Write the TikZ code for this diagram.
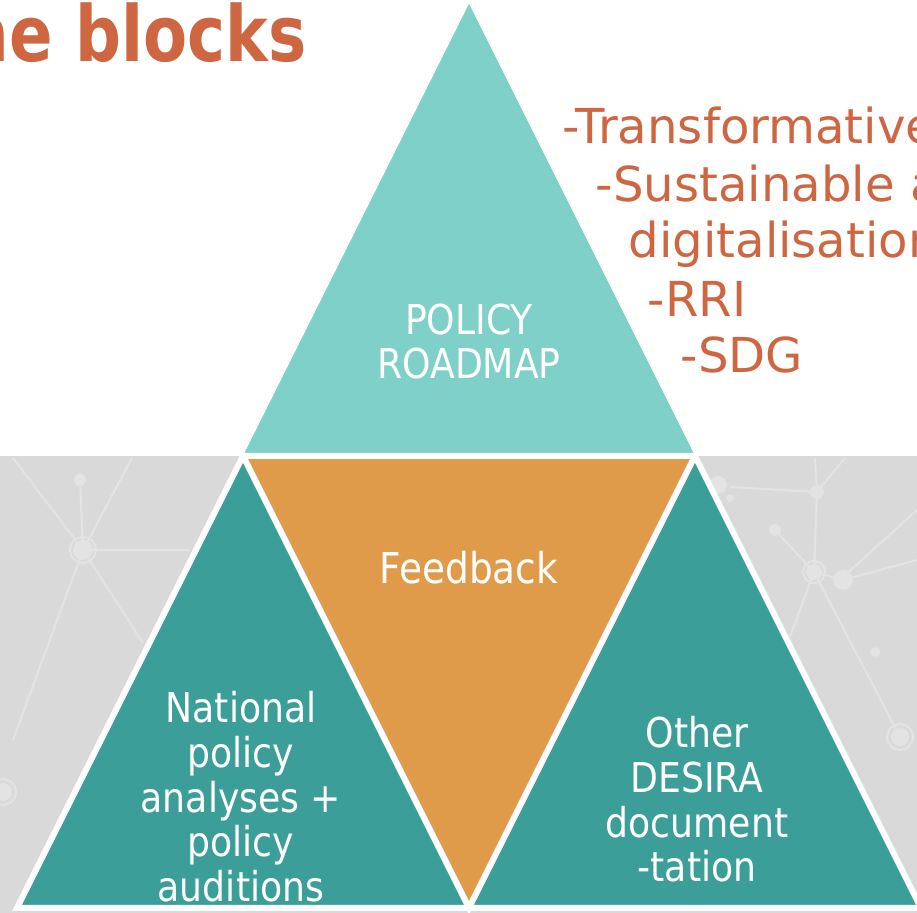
\documentclass[tikz,border=0pt]{standalone}
\usepackage{fontspec}
\usepackage{graphicx}
\setmainfont{DejaVu Sans}
\newfontfamily\blockfont[FakeStretch=0.88]{DejaVu Sans}
\newfontfamily\titlefont{DejaVu Sans}
\usepackage{tikz}

\definecolor{roadmap}{HTML}{7FD0C9}
\definecolor{feedback}{HTML}{E09B4A}
\definecolor{sources}{HTML}{3C9E99}
\definecolor{rust}{HTML}{CD6641}
\definecolor{slide}{HTML}{D9D9D9}
\definecolor{web}{HTML}{E3E3E3}

\begin{document}
\begin{tikzpicture}[x=0.01cm,y=-0.01cm,
  block/.style={draw=white,line width=1.7pt,line join=miter},
  blocktext/.style={text=white,align=center,inner sep=0,anchor=north,
    font=\blockfont\fontsize{11.7}{12.7}\selectfont},
  listitem/.style={text=rust,inner sep=0,anchor=base west,
    font=\fontsize{13.7}{16}\selectfont},
  link/.style={draw=web,line width=0.6pt},
  hub/.style={fill=web}]

\useasboundingbox (0,0) rectangle (917,913);
\clip (0,0) rectangle (917,913);

% grey lower half of the slide
\fill[slide] (0,456) rectangle (917,913);

% faint network in the background
\coordinate (n1) at (83,550);
\coordinate (n2) at (814,572);
\draw[link] (n1) -- (13,458);
\draw[link] (n1) -- (132,458);
\draw[link] (n1) -- (80,480);
\draw[link] (n1) -- (190,550);
\draw[link] (n1) -- (143,643);
\draw[link] (n1) -- (13,740);
\fill[hub] (80,480) circle (6);
\fill[hub] (n1) circle (10);
\draw[link] (n1) circle (13);
\draw[link] (3,792) circle (13);
\fill[hub] (3,792) circle (9);

\draw[link] (n2) -- (775,530);
\draw[link] (n2) -- (817,492) -- (815,458);
\draw[link] (817,492) -- (845,458);
\draw[link] (730,487) -- (817,492);
\draw[link] (n2) -- (790,637);
\draw[link] (n2) -- (900,737);
\draw[link] (n2) -- (843,580) -- (917,560);
\draw[link] (843,577) -- (917,510);
\fill[hub] (775,530) circle (6);
\fill[hub] (817,492) circle (7);
\fill[hub] (843,580) circle (10);
\fill[hub] (875,652) circle (5);
\fill[hub] (718,485) circle (9);
\fill[hub] (730,498) circle (4);
\fill[hub] (n2) circle (8);
\draw[link] (n2) circle (11);
\fill[hub] (900,737) circle (9);
\draw[link] (900,737) circle (13);

% corners of the four triangles
\coordinate (apex) at (469,4);
\coordinate (ml) at (243,456);
\coordinate (mr) at (695,456);
\coordinate (bl) at (17,908);
\coordinate (bm) at (469,908);
\coordinate (br) at (921,908);

\fill[roadmap] (apex) -- (ml) -- (mr) -- cycle;
\filldraw[block,fill=feedback] (ml) -- (mr) -- (bm) -- cycle;
\filldraw[block,fill=sources] (ml) -- (bl) -- (bm) -- cycle;
\filldraw[block,fill=sources] (mr) -- (bm) -- (br) -- cycle;

\node[blocktext] (roadmaptext) at (469,303) {POLICY\\ROADMAP};
\node[blocktext,font=\blockfont\fontsize{12.1}{13}\selectfont] (feedbacktext) at (469,550) {Feedback};
\node[blocktext] (nationaltext) at (241,691) {National\\policy\\analyses +\\policy\\auditions};
\node[blocktext] (othertext) at (697,716) {Other\\DESIRA\\document\\-tation};

% title, running off the left edge
\node[anchor=base east,text=rust,inner sep=0,
  font=\titlefont\bfseries\fontsize{22}{26}\selectfont] (title) at (307,62)
  {\scalebox{0.83}[1]{the blocks}};

% themes next to the roadmap
\node[listitem] (transform) at (562,144) {-Transformative};
\node[listitem] (sustain) at (595,202) {-Sustainable a};
\node[listitem] (digital) at (628,258) {digitalisation};
\node[listitem] (rri) at (647,317) {-RRI};
\node[listitem] (sdg) at (680,373) {-SDG};

\end{tikzpicture}
\end{document}
